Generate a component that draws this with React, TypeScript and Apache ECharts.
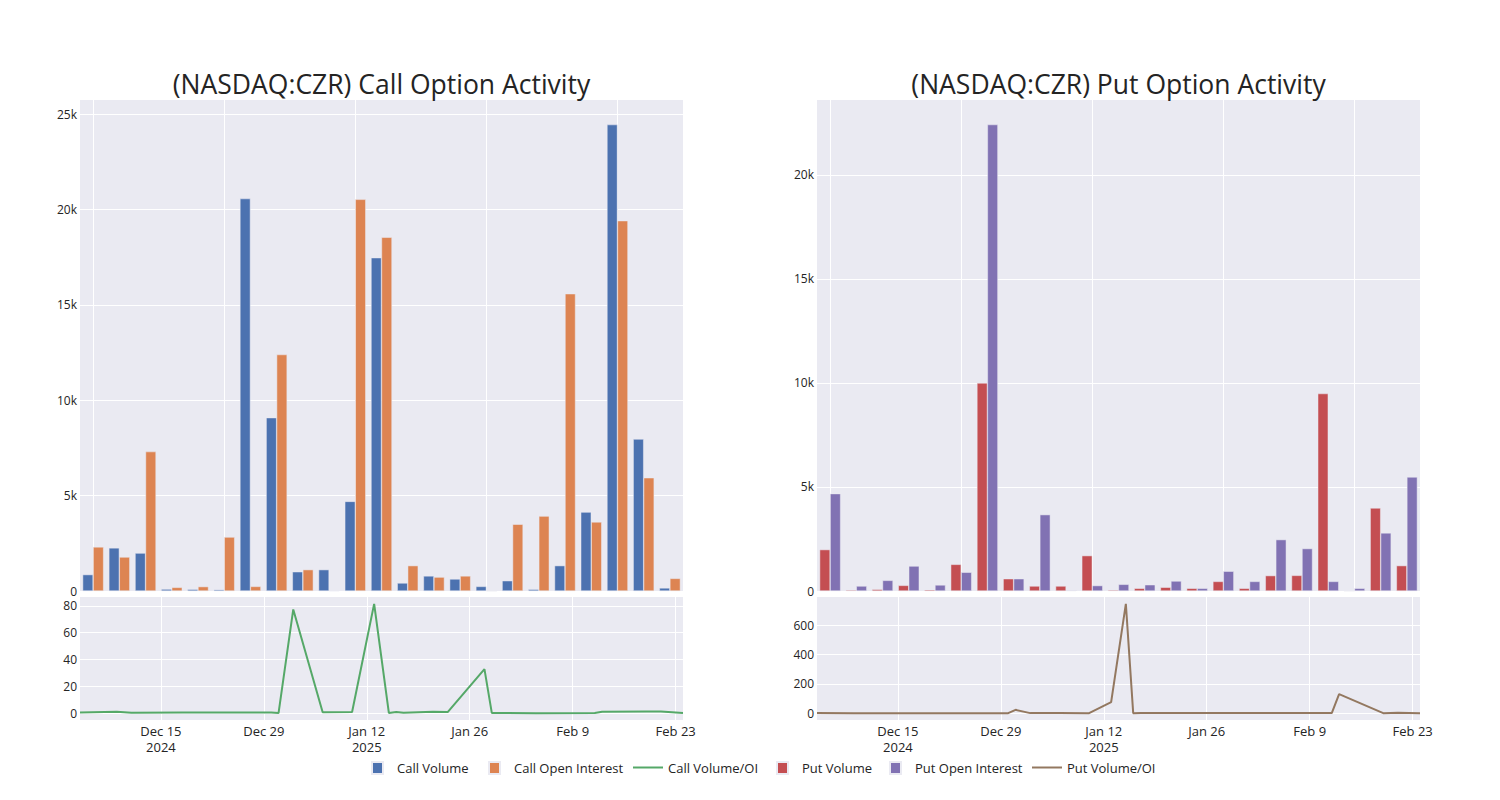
import React, { useEffect, useRef } from 'react';
import * as echarts from 'echarts';

// ---- data ----
const dates = [
  '2024-12-04', '2024-12-09', '2024-12-11', '2024-12-18', '2024-12-30', '2024-12-31',
  '2025-01-02', '2025-01-06', '2025-01-10', '2025-01-13', '2025-01-15', '2025-01-16',
  '2025-01-17', '2025-01-21', '2025-01-23', '2025-01-28', '2025-01-29', '2025-02-04',
  '2025-02-12', '2025-02-13', '2025-02-19', '2025-02-21', '2025-02-24',
];
const callVolume = [860, 2260, 1990, 100, 90, 70, 20580, 9090, 1010, 1120, 4700, 17480, 420, 790, 630, 240, 540, 90, 1330, 4140, 24460, 7970, 160];
const callOpenInterest = [2310, 1780, 7310, 190, 230, 2830, 240, 12400, 1120, 15, 20540, 18550, 1330, 730, 790, 7, 3500, 3930, 15590, 3620, 19420, 5940, 660];
const callRatio = [0.4, 1.1, 0.3, 0.5, 0.4, 0.05, 77.3, 0.7, 0.9, 81.5, 0.2, 0.9, 0.3, 1.1, 0.8, 32.8, 0.15, 0.02, 0.1, 1.1, 1.3, 1.3, 0.2];
const putVolume = [1990, 50, 80, 270, 60, 1280, 10000, 590, 240, 240, 1700, 50, 130, 180, 130, 460, 130, 740, 750, 9490, 0, 3990, 1220];
const putOpenInterest = [4680, 240, 510, 1200, 290, 900, 22420, 590, 3670, 30, 260, 320, 300, 480, 130, 950, 460, 2470, 2040, 460, 130, 2790, 5480];
const putRatio = [0.4, 0.2, 0.2, 0.2, 0.2, 23, 0.4, 1.0, 0.1, 75, 748, 0.2, 0.4, 0.4, 1.0, 0.5, 0.3, 0.3, 0.4, 130, 0, 3, 0.2];

const barGridIndices = [0, 5, 10, 15, 20];
const dateTicks = ['2024-12-15', '2024-12-29', '2025-01-12', '2025-01-26', '2025-02-09', '2025-02-23'];
const dateTickLabels = ['Dec 15\n2024', 'Dec 29', 'Jan 12\n2025', 'Jan 26', 'Feb 9', 'Feb 23'];
const callYTicks = [0, 5000, 10000, 15000, 20000, 25000];
const putYTicks = [0, 5000, 10000, 15000, 20000];
const callRatioTicks = [0, 20, 40, 60, 80];
const putRatioTicks = [0, 200, 400, 600];

// ---- helpers ----
const dayNum = (s: string) => {
  const [y, m, d] = s.split('-').map(Number);
  return (Date.UTC(y, m - 1, d) - Date.UTC(2024, 11, 1)) / 86400000;
};
const tickDays = dateTicks.map(dayNum);

const FONT = '"Open Sans", Verdana, Arial, sans-serif';
const TXT = 'rgb(36,36,36)';
const BG = 'rgb(234,234,242)';
const FS = 13;

const kFmt = (v: number) => (v === 0 ? '0' : v / 1000 + 'k');

export default function App() {
  const ref = useRef<HTMLDivElement>(null);
  useEffect(() => {
    if (!ref.current) return;
    const chart = echarts.init(ref.current, undefined, { renderer: 'svg' });

    const grids = [
      { left: 80, top: 100, width: 603, height: 491 },
      { left: 80, top: 597, width: 603, height: 123 },
      { left: 817, top: 100, width: 603, height: 491 },
      { left: 817, top: 597, width: 603, height: 123 },
    ].map((g) => ({ ...g, show: true, backgroundColor: BG, borderWidth: 0 }));

    const splitLine = { show: true, lineStyle: { color: '#ffffff', width: 1 } };

    const barX = (gi: number) => ({
      type: 'value',
      gridIndex: gi,
      min: -0.5,
      max: dates.length - 0.5,
      axisLine: { show: false },
      axisTick: { show: false, customValues: barGridIndices },
      axisLabel: { show: false },
      splitLine,
    });
    const timeX = (gi: number) => ({
      type: 'value',
      gridIndex: gi,
      min: dayNum(dates[0]),
      max: dayNum(dates[dates.length - 1]),
      axisLine: { show: false },
      axisTick: { show: false, customValues: tickDays },
      axisLabel: {
        show: true,
        customValues: tickDays,
        formatter: (v: number) => {
          const i = tickDays.indexOf(v);
          return i >= 0 ? dateTickLabels[i] : '';
        },
        color: TXT,
        fontSize: FS,
        fontFamily: FONT,
        lineHeight: 16,
        margin: 3,
      },
      splitLine,
    });
    const yAx = (gi: number, min: number, max: number, ticks: number[], fmt?: (v: number) => string) => ({
      type: 'value',
      gridIndex: gi,
      min,
      max,
      axisLine: { show: false },
      axisTick: { show: false, customValues: ticks },
      axisLabel: {
        show: true,
        customValues: ticks,
        formatter: fmt || ((v: number) => String(v)),
        color: TXT,
        fontSize: 12,
        fontFamily: FONT,
        lineHeight: 12,
        margin: 3,
      },
      splitLine,
    });

    const barStyle = (color: string) => ({ color, borderColor: BG, borderWidth: 0.5 });
    const idx = (arr: number[]) => arr.map((v, i) => [i, v]);
    const byDate = (arr: number[]) => arr.map((v, i) => [dayNum(dates[i]), v]);

    const ln = 'path://M0,0H30V2H0Z';
    const legendItem = (name: string, left: number, isLine: boolean) => ({
      left,
      top: 761,
      padding: 0,
      selectedMode: false,
      itemWidth: isLine ? 30 : 11,
      itemHeight: 12,
      icon: isLine ? ln : 'rect',
      textStyle: { fontSize: FS, fontFamily: FONT, color: TXT, padding: isLine ? [0, 0, 0, 0] : [0, 0, 0, 9] },
      data: [name],
    });

    const titleStyle = { fontSize: 26.5, fontWeight: 'normal', fontFamily: FONT, color: TXT, lineHeight: 32 };

    chart.setOption({
      animation: false,
      textStyle: { fontFamily: FONT },
      title: [
        { text: '(NASDAQ:CZR) Call Option Activity', left: 381.5, top: 68, textAlign: 'center', padding: 0, textStyle: titleStyle },
        { text: '(NASDAQ:CZR) Put Option Activity', left: 1118.5, top: 68, textAlign: 'center', padding: 0, textStyle: titleStyle },
      ],
      legend: [
        legendItem('Call Volume', 371, false),
        legendItem('Call Open Interest', 488, false),
        legendItem('Call Volume/OI', 633, true),
        legendItem('Put Volume', 776, false),
        legendItem('Put Open Interest', 889, false),
        legendItem('Put Volume/OI', 1032, true),
      ],
      grid: grids,
      xAxis: [barX(0), timeX(1), barX(2), timeX(3)],
      yAxis: [
        yAx(0, 0, 25750, callYTicks, kFmt),
        yAx(1, -5.1, 86.6, callRatioTicks),
        yAx(2, 0, 23600, putYTicks, kFmt),
        yAx(3, -46.75, 794.75, putRatioTicks),
      ],
      series: [
        {
          name: 'Call Volume', type: 'bar', xAxisIndex: 0, yAxisIndex: 0,
          data: idx(callVolume), itemStyle: barStyle('rgb(76,114,176)'),
          barGap: '0%', barCategoryGap: '20%',
        },
        {
          name: 'Call Open Interest', type: 'bar', xAxisIndex: 0, yAxisIndex: 0,
          data: idx(callOpenInterest), itemStyle: barStyle('rgb(221,132,82)'),
          barGap: '0%', barCategoryGap: '20%',
        },
        {
          name: 'Call Volume/OI', type: 'line', xAxisIndex: 1, yAxisIndex: 1,
          data: byDate(callRatio), showSymbol: false, symbol: 'none',
          lineStyle: { color: 'rgb(85,168,104)', width: 2 }, itemStyle: { color: 'rgb(85,168,104)' },
        },
        {
          name: 'Put Volume', type: 'bar', xAxisIndex: 2, yAxisIndex: 2,
          data: idx(putVolume), itemStyle: barStyle('rgb(196,78,82)'),
          barGap: '0%', barCategoryGap: '20%',
        },
        {
          name: 'Put Open Interest', type: 'bar', xAxisIndex: 2, yAxisIndex: 2,
          data: idx(putOpenInterest), itemStyle: barStyle('rgb(129,114,179)'),
          barGap: '0%', barCategoryGap: '20%',
        },
        {
          name: 'Put Volume/OI', type: 'line', xAxisIndex: 3, yAxisIndex: 3,
          data: byDate(putRatio), showSymbol: false, symbol: 'none',
          lineStyle: { color: 'rgb(147,120,96)', width: 2 }, itemStyle: { color: 'rgb(147,120,96)' },
        },
      ],
    });

    return () => chart.dispose();
  }, []);

  return (
    <div
      ref={ref}
      style={{ position: 'absolute', left: 0, top: 0, width: 1500, height: 800, background: '#fff' }}
    />
  );
}
